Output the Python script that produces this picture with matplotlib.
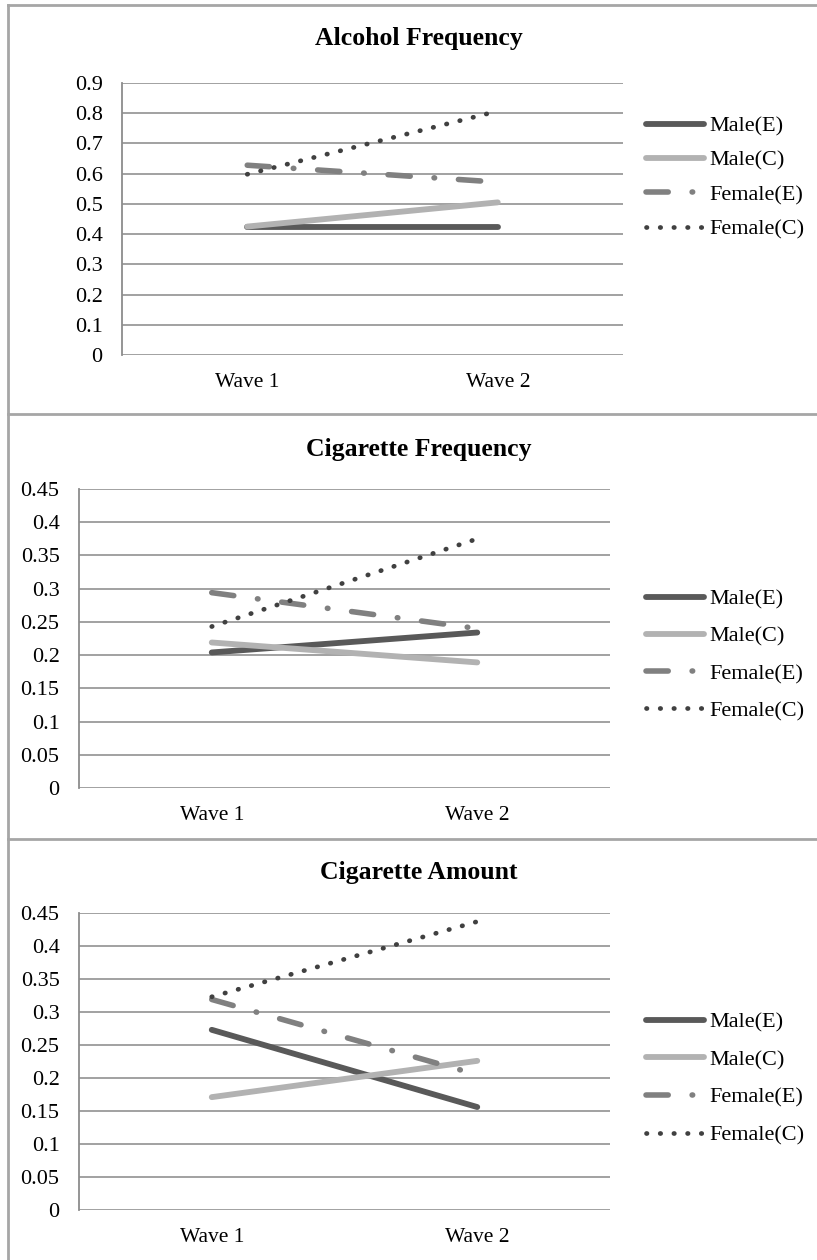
import matplotlib
matplotlib.use("Agg")
import matplotlib.pyplot as plt
from matplotlib.lines import Line2D
from matplotlib.ticker import FuncFormatter

plt.rcParams['font.family'] = ['Liberation Serif', 'DejaVu Serif']

waves = ['Wave 1', 'Wave 2']
series = ['Male(E)', 'Male(C)', 'Female(E)', 'Female(C)']

# values
alcohol_freq = {'Male(E)': [0.425, 0.425], 'Male(C)': [0.425, 0.505],
                'Female(E)': [0.628, 0.572], 'Female(C)': [0.598, 0.807]}
cig_freq = {'Male(E)': [0.204, 0.234], 'Male(C)': [0.219, 0.189],
            'Female(E)': [0.294, 0.240], 'Female(C)': [0.243, 0.375]}
cig_amount = {'Male(E)': [0.273, 0.156], 'Male(C)': [0.171, 0.226],
              'Female(E)': [0.319, 0.205], 'Female(C)': [0.323, 0.437]}

titles = ['Alcohol Frequency', 'Cigarette Frequency', 'Cigarette Amount']
ymax = [0.9, 0.45, 0.45]
ystep = [0.1, 0.05, 0.05]

styles = {
    'Male(E)': dict(color='#595959', lw=4.2, solid_capstyle='round'),
    'Male(C)': dict(color='#b2b2b2', lw=4.2, solid_capstyle='round'),
    'Female(E)': dict(color='#808080', lw=4.0, dashes=(4.0, 4.3, 0.1, 4.3),
                      dash_capstyle='round'),
    'Female(C)': dict(color='#404040', lw=3.4, dashes=(0.1, 2.8),
                      dash_capstyle='round'),
}

W, H = 817, 1260
fig = plt.figure(figsize=(W / 100, H / 100), dpi=100)


def fx(x):
    return x / W


def fy(y):
    return 1 - y / H


# axes boxes in pixels: left, right, top, bottom
boxes = [(122, 623, 83, 355), (79, 610, 489, 788), (79, 610, 913, 1210)]
title_y = [39, 449, 873]
legend_top = [116, 589, 1012]
legend_spacing = [0.62, 0.75, 0.77]

for i, data in enumerate([alcohol_freq, cig_freq, cig_amount]):
    l, r, t, b = boxes[i]
    ax = fig.add_axes([fx(l), fy(b), (r - l) / W, (b - t) / H])
    x = range(len(waves))
    for s in series:
        ax.plot(x, data[s], label=s, **styles[s])
    ax.set_xlim(-0.5, 1.5)
    ax.set_ylim(0, ymax[i])
    n = round(ymax[i] / ystep[i])
    ticks = [k * ystep[i] for k in range(n + 1)]
    ax.set_yticks(ticks)
    ax.yaxis.set_major_formatter(FuncFormatter(lambda v, p: '%g' % round(v, 2)))
    ax.set_xticks(list(x))
    ax.set_xticklabels(waves)
    ax.tick_params(length=0, labelsize=16, colors='black')
    ax.tick_params(axis='y', pad=14)
    ax.tick_params(axis='x', pad=13, labelsize=15.5)
    ax.grid(axis='y', color='#9a9a9a', lw=1.3)
    ax.set_axisbelow(True)
    for sp in ['top', 'right', 'bottom']:
        ax.spines[sp].set_visible(False)
    ax.spines['left'].set_color('#8c8c8c')
    ax.spines['left'].set_linewidth(1.3)
    fig.text(fx(419), fy(title_y[i]), titles[i], ha='center', va='center',
             fontsize=18.5, fontweight='bold')
    ax.legend(loc='upper left', bbox_to_anchor=(fx(646), fy(legend_top[i])),
              bbox_transform=fig.transFigure, frameon=False, fontsize=16,
              handlelength=2.6, handletextpad=0.25, borderpad=0,
              borderaxespad=0, labelspacing=legend_spacing[i])

# panel borders
border = dict(color='#a6a6a6', lw=2)
fig.add_artist(Line2D([fx(8), 1], [fy(5), fy(5)], **border))
fig.add_artist(Line2D([fx(8), fx(8)], [fy(5), 0], **border))
fig.add_artist(Line2D([fx(8), 1], [fy(414), fy(414)], **border))
fig.add_artist(Line2D([fx(8), 1], [fy(839), fy(839)], **border))

fig.savefig('out.png', dpi=100)
